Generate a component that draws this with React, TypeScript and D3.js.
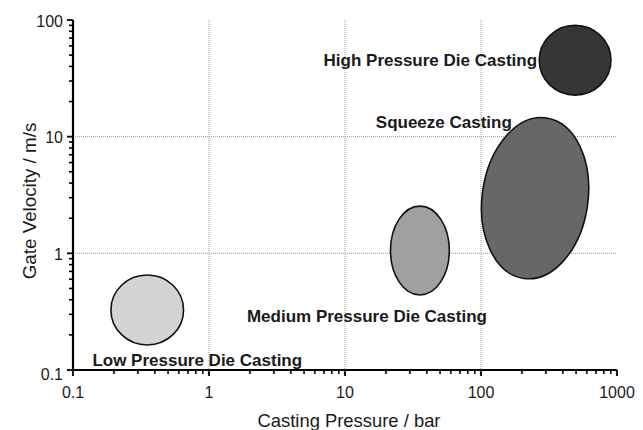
import React from "react";
import * as d3 from "d3";

// ---- Data ----
const processes = [
  "Low Pressure Die Casting",
  "Medium Pressure Die Casting",
  "Squeeze Casting",
  "High Pressure Die Casting",
];
// Extent of each process window (unrotated ellipse), bar and m/s
const pressureMin = [0.19, 21.6, 102, 268];
const pressureMax = [0.65, 58.5, 612, 903];
const velocityMin = [0.164, 0.44, 0.6, 22.7];
const velocityMax = [0.652, 2.54, 14.7, 90];
const tiltDeg = [0, 0, 8, 0];
const fills = ["#d4d4d4", "#a0a0a0", "#666766", "#353637"];
// Label anchor (centre of text, baseline) in data units
const labelPressure = [0.82, 14.5, 53.3, 42.4];
const labelVelocity = [0.108, 0.258, 11.85, 40.3];

const xTicks = [0.1, 1, 10, 100, 1000];
const xTickLabels = ["0.1", "1", "10", "100", "1000"];
const yTicks = [0.1, 1, 10, 100];
const yTickLabels = ["0.1", "1", "10", "100"];
const xGrid = [1, 10, 100];
const yGrid = [1, 10];

const W = 643;
const H = 430;
const left = 73;
const right = 617;
const top = 20;
const bottom = 370;

const FONT = "'Liberation Sans', Arial, Helvetica, sans-serif";

function minorTicks(lo: number, hi: number) {
  const out: number[] = [];
  for (let d = lo; d < hi; d *= 10) {
    for (let k = 2; k <= 9; k++) out.push(d * k);
  }
  return out;
}

export default function App() {
  const x = d3.scaleLog().domain([0.1, 1000]).range([left, right]);
  const y = d3.scaleLog().domain([0.1, 100]).range([bottom, top]);
  const xMinor = minorTicks(0.1, 1000);
  const yMinor = minorTicks(0.1, 100);

  return (
    <svg
      width={W}
      height={H}
      style={{ position: "absolute", left: 0, top: 0, background: "#fff" }}
      fontFamily={FONT}
    >
      {/* grid */}
      {xGrid.map((v) => (
        <line
          key={"gx" + v}
          x1={x(v)}
          x2={x(v)}
          y1={top}
          y2={bottom}
          stroke="#9a9a9a"
          strokeWidth={1}
          strokeDasharray="1,1"
        />
      ))}
      {yGrid.map((v) => (
        <line
          key={"gy" + v}
          x1={left}
          x2={right}
          y1={y(v)}
          y2={y(v)}
          stroke="#9a9a9a"
          strokeWidth={1}
          strokeDasharray="1,1"
        />
      ))}

      {/* ellipses */}
      {processes.map((p, i) => {
        const cx = (x(pressureMin[i]) + x(pressureMax[i])) / 2;
        const cy = (y(velocityMin[i]) + y(velocityMax[i])) / 2;
        const rx = (x(pressureMax[i]) - x(pressureMin[i])) / 2;
        const ry = (y(velocityMin[i]) - y(velocityMax[i])) / 2;
        return (
          <ellipse
            key={"e" + i}
            cx={cx}
            cy={cy}
            rx={rx}
            ry={ry}
            transform={`rotate(${tiltDeg[i]} ${cx} ${cy})`}
            fill={fills[i]}
            stroke="#111"
            strokeWidth={1.6}
          />
        );
      })}

      {/* labels */}
      {processes.map((p, i) => (
        <text
          key={"l" + i}
          x={x(labelPressure[i])}
          y={y(labelVelocity[i])}
          textAnchor="middle"
          fontWeight="bold"
          fontSize={17}
          fill="#1a1a1a"
        >
          {p}
        </text>
      ))}

      {/* x axis */}
      <line x1={left} x2={right} y1={bottom} y2={bottom} stroke="#000" strokeWidth={2.2} />
      {xMinor.map((v) => (
        <line key={"xm" + v} x1={x(v)} x2={x(v)} y1={bottom} y2={bottom + 4} stroke="#000" strokeWidth={1.6} />
      ))}
      {xTicks.map((v, i) => (
        <g key={"xt" + v}>
          <line x1={x(v)} x2={x(v)} y1={bottom} y2={bottom + 6} stroke="#000" strokeWidth={1.8} />
          <text x={x(v)} y={397.5} textAnchor="middle" fontSize={16} fill="#1a1a1a">
            {xTickLabels[i]}
          </text>
        </g>
      ))}

      {/* y axis */}
      <line x1={left} x2={left} y1={top} y2={bottom} stroke="#000" strokeWidth={2.2} />
      {yMinor.map((v) => (
        <line key={"ym" + v} x1={left - 4} x2={left} y1={y(v)} y2={y(v)} stroke="#000" strokeWidth={1.6} />
      ))}
      {yTicks.map((v, i) => (
        <g key={"yt" + v}>
          <line x1={left - 6} x2={left} y1={y(v)} y2={y(v)} stroke="#000" strokeWidth={1.8} />
          <text
            x={63}
            y={y(v) + (i === 0 ? 9.5 : 6.5)}
            textAnchor="end"
            fontSize={16}
            fill="#1a1a1a"
          >
            {yTickLabels[i]}
          </text>
        </g>
      ))}

      {/* axis titles */}
      <text x={349} y={427} textAnchor="middle" fontSize={18.4} fill="#1a1a1a">
        Casting Pressure / bar
      </text>
      <text
        transform="translate(36 201) rotate(-90)"
        textAnchor="middle"
        fontSize={18.8}
        fill="#1a1a1a"
      >
        Gate Velocity / m/s
      </text>
    </svg>
  );
}
